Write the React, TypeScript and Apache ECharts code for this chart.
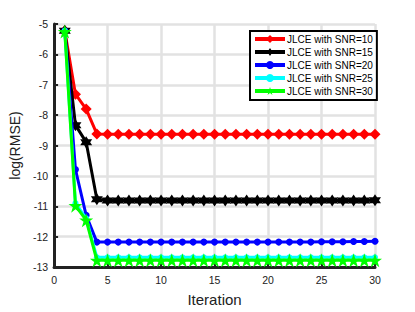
import React, { useEffect, useRef } from "react";
import * as echarts from "echarts";

const iterations = Array.from({ length: 30 }, (_, i) => i + 1);
const seriesNames = [
  "JLCE with SNR=10",
  "JLCE with SNR=15",
  "JLCE with SNR=20",
  "JLCE with SNR=25",
  "JLCE with SNR=30",
];
const snr10 = [-5.22, -7.31, -7.8, -8.62, -8.63, -8.63, -8.63, -8.63, -8.63, -8.63, -8.63, -8.63, -8.63, -8.63, -8.63, -8.63, -8.63, -8.63, -8.63, -8.63, -8.63, -8.63, -8.63, -8.63, -8.63, -8.63, -8.63, -8.63, -8.63, -8.63];
const snr15 = [-5.22, -8.33, -8.89, -10.77, -10.81, -10.81, -10.81, -10.81, -10.81, -10.81, -10.81, -10.81, -10.81, -10.81, -10.81, -10.81, -10.81, -10.81, -10.81, -10.81, -10.81, -10.81, -10.81, -10.81, -10.81, -10.81, -10.81, -10.81, -10.81, -10.8];
const snr20 = [-5.22, -9.79, -11.3, -12.18, -12.18, -12.18, -12.18, -12.18, -12.18, -12.18, -12.18, -12.18, -12.18, -12.18, -12.18, -12.18, -12.18, -12.18, -12.18, -12.18, -12.18, -12.18, -12.18, -12.18, -12.17, -12.17, -12.17, -12.16, -12.16, -12.15];
const snr25 = [-5.22, -10.9, -11.4, -12.68, -12.68, -12.68, -12.68, -12.68, -12.68, -12.68, -12.68, -12.68, -12.68, -12.68, -12.68, -12.68, -12.68, -12.68, -12.68, -12.68, -12.68, -12.68, -12.68, -12.68, -12.68, -12.68, -12.68, -12.68, -12.68, -12.68];
const snr30 = [-5.25, -10.98, -11.46, -12.78, -12.78, -12.78, -12.78, -12.78, -12.78, -12.78, -12.78, -12.78, -12.78, -12.78, -12.78, -12.78, -12.78, -12.78, -12.78, -12.78, -12.78, -12.78, -12.78, -12.78, -12.78, -12.78, -12.78, -12.78, -12.78, -12.78];
const xTicks = [0, 5, 10, 15, 20, 25, 30];
const yTicks = [-13, -12, -11, -10, -9, -8, -7, -6, -5];

const PENTAGRAM =
  "path://M0,-100 L22.5,-30.9 L95.1,-30.9 L36.3,11.8 L58.8,80.9 L0,38.2 L-58.8,80.9 L-36.3,11.8 L-95.1,-30.9 L-22.5,-30.9 Z";
const HEXAGRAM =
  "path://M0,-100 L28.9,-50 L86.6,-50 L57.7,0 L86.6,50 L28.9,50 L0,100 L-28.9,50 L-86.6,50 L-57.7,0 L-86.6,-50 L-28.9,-50 Z";

const seriesValues = [snr10, snr15, snr20, snr25, snr30];
const colors = ["#ff0000", "#000000", "#0000ff", "#00ffff", "#00ff00"];
const symbols = ["diamond", HEXAGRAM, "circle", "circle", PENTAGRAM];
const symbolSizes = [11, 12, 7, 6, 14];

export default function App() {
  const ref = useRef<HTMLDivElement>(null);
  useEffect(() => {
    if (!ref.current) return;
    const chart = echarts.init(ref.current, null, { renderer: "svg" });
    const font = "'Liberation Sans', Arial, sans-serif";
    chart.setOption({
      animation: false,
      backgroundColor: "#ffffff",
      textStyle: { fontFamily: font },
      grid: { left: 54, right: 40, top: 24, bottom: 39, containLabel: false },
      legend: {
        orient: "vertical",
        left: 250,
        top: 31,
        width: 123,
        data: seriesNames,
        itemWidth: 30,
        itemHeight: 10,
        itemGap: 3,
        padding: [3, 4, 4, 3],
        borderColor: "#000000",
        borderWidth: 2,
        backgroundColor: "#ffffff",
        lineStyle: { width: 4 },
        textStyle: { fontSize: 10, color: "#000", fontFamily: font, padding: [0, 0, 0, -3] },
      },
      xAxis: {
        type: "value",
        min: 0,
        max: 30,
        interval: 5,
        name: "Iteration",
        nameLocation: "middle",
        nameGap: 25,
        nameTextStyle: { fontSize: 15, color: "#222", fontFamily: font },
        axisLine: { onZero: false, lineStyle: { color: "#222", width: 3 } },
        axisTick: { show: true, inside: true, length: 4, lineStyle: { color: "#222", width: 2 } },
        axisLabel: { fontSize: 10.5, color: "#222", margin: 7, customValues: xTicks },
        splitLine: { show: true, lineStyle: { color: "#e2e2e2", width: 2.5 } },
      },
      yAxis: {
        type: "value",
        min: -13,
        max: -5,
        interval: 1,
        name: "log(RMSE)",
        nameLocation: "middle",
        nameGap: 28,
        nameTextStyle: { fontSize: 14, color: "#222", fontFamily: font },
        axisLine: { onZero: false, lineStyle: { color: "#222", width: 3 } },
        axisTick: { show: true, inside: true, length: 4, lineStyle: { color: "#222", width: 2 } },
        axisLabel: { fontSize: 10.5, color: "#222", margin: 6, customValues: yTicks },
        splitLine: { show: true, lineStyle: { color: "#e2e2e2", width: 2.5 } },
      },
      series: seriesNames.map((name, k) => ({
        name,
        type: "line",
        data: iterations.map((x, i) => [x, seriesValues[k][i]]),
        symbol: symbols[k],
        symbolSize: symbolSizes[k],
        showAllSymbol: true,
        lineStyle: { color: colors[k], width: 3 },
        itemStyle: { color: colors[k], borderWidth: 0 },
        z: 2 + k,
      })),
    });
    return () => chart.dispose();
  }, []);
  return (
    <div
      ref={ref}
      style={{ position: "fixed", left: 0, top: 0, width: 415, height: 312, background: "#fff" }}
    />
  );
}
